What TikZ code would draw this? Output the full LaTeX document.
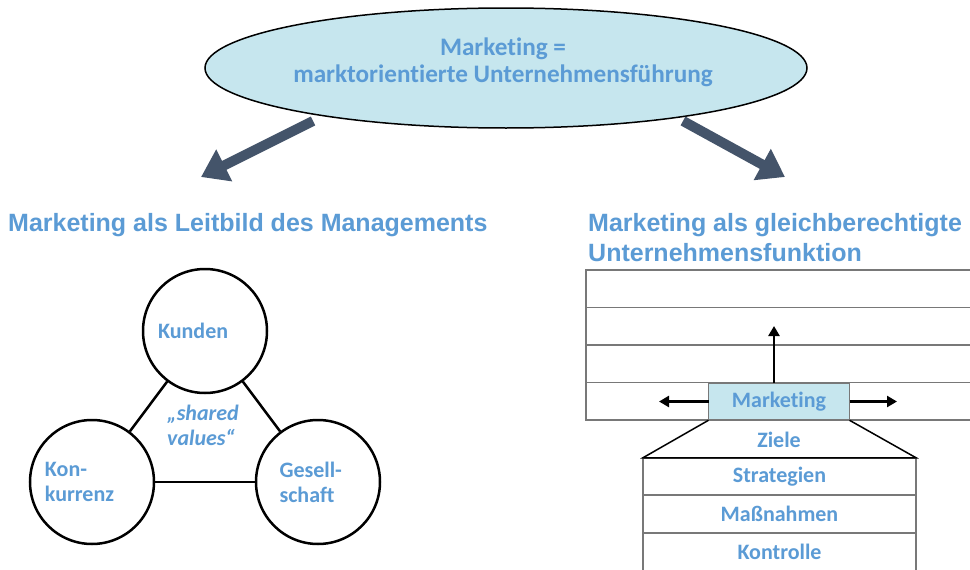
\documentclass[tikz,border=0pt]{standalone}
\usepackage{fontspec}
\setmainfont{Carlito}[Ligatures=CommonOff]
\newfontfamily\headfont{Liberation Sans}
\usepackage{tikz}
\usetikzlibrary{positioning,shapes,arrows.meta}

\definecolor{mblue}{RGB}{91,155,213}
\definecolor{mfill}{RGB}{198,230,238}
\definecolor{mdark}{RGB}{68,84,106}
\definecolor{mgray}{RGB}{120,120,120}

\tikzset{
  txt/.style={text=mblue, font=\bfseries\fontsize{22}{25}\selectfont, inner sep=0pt},
  heading/.style={text=mblue, font=\headfont\bfseries\fontsize{25}{30}\selectfont, inner sep=0pt, align=left},
  ring/.style={txt, draw=black, circle, line width=2.5pt, minimum size=124pt, text width=94pt, align=left},
  gridline/.style={draw=mgray, line width=1.8pt},
  cell/.style={txt, gridline, outer sep=0pt, minimum width=273pt, minimum height=37.5pt},
  bigarrow/.style={mdark, line width=10pt, -{Triangle[width=34pt,length=26pt]}},
  smallarrow/.style={black, line width=2.5pt, -{Triangle[width=11pt,length=10pt]}}
}

\begin{document}
\begin{tikzpicture}[x=1pt,y=-1pt]
  \useasboundingbox[fill=white] (0,0) rectangle (970,570);

  % top ellipse
  \node[ellipse, draw=black, line width=1.5pt, fill=mfill, minimum width=602pt, minimum height=120pt] (mk) at (506,68) {};
  \node[txt, font=\bfseries\fontsize{25.2}{27}\selectfont, align=center] (mktitle) at (503,62)
        {Marketing =\\marktorientierte Unternehmensführung};

  \coordinate (la) at (313,121);
  \coordinate (lb) at (201,177);
  \coordinate (ra) at (683,121);
  \coordinate (rb) at (785,177);
  \draw[bigarrow] (la) -- (lb);
  \draw[bigarrow] (ra) -- (rb);

  % left half
  \node[heading, anchor=west] (lhead) at (8,225) {Marketing als Leitbild des Managements};

  \node[ring] (kunden) at (205,331) {Kunden\\[20pt]};
  \node[ring] (konk) at (92,482) {Kon-\\kurrenz};
  \node[ring, text width=77pt] (ges) at (318,482) {Gesell-\\schaft};
  \node[txt, font=\bfseries\itshape\fontsize{22}{25}\selectfont, align=left] (shared) at (203,425) {„shared\\values“};

  \foreach \from/\to in {kunden/konk, kunden/ges, konk/ges}
    \draw[line width=2.5pt] (\from) -- (\to);

  % right half
  \node[heading, anchor=west] (rhead) at (588,238) {Marketing als gleichberechtigte\\Unternehmensfunktion};

  \foreach \y in {270,307.5,345,382.5}
    \draw[gridline] (586,\y) rectangle (985,\y+37.5);

  \node[cell, fill=mfill, minimum width=141pt] (mkt) at (779,401.5) {Marketing};

  \coordinate (up) at (774,326);
  \coordinate (lft) at (659,401.5);
  \coordinate (rgt) at (897,401.5);
  \draw[smallarrow] (mkt.north -| up) -- (up);
  \draw[smallarrow] (mkt.west) -- (lft);
  \draw[smallarrow] (mkt.east) -- (rgt);

  \node[cell] (strat) at (779.5,476.5) {Strategien};
  \node[cell, below=0pt of strat] (mass) {Maßnahmen};
  \node[cell, below=0pt of mass, minimum height=40pt, text depth=2.5pt] (kontr) {Kontrolle};

  \draw[line width=1.5pt] (mkt.south west) -- (strat.north west) -- (strat.north east) -- (mkt.south east);
  \node[txt] (ziele) at (779,440) {Ziele};
\end{tikzpicture}
\end{document}
